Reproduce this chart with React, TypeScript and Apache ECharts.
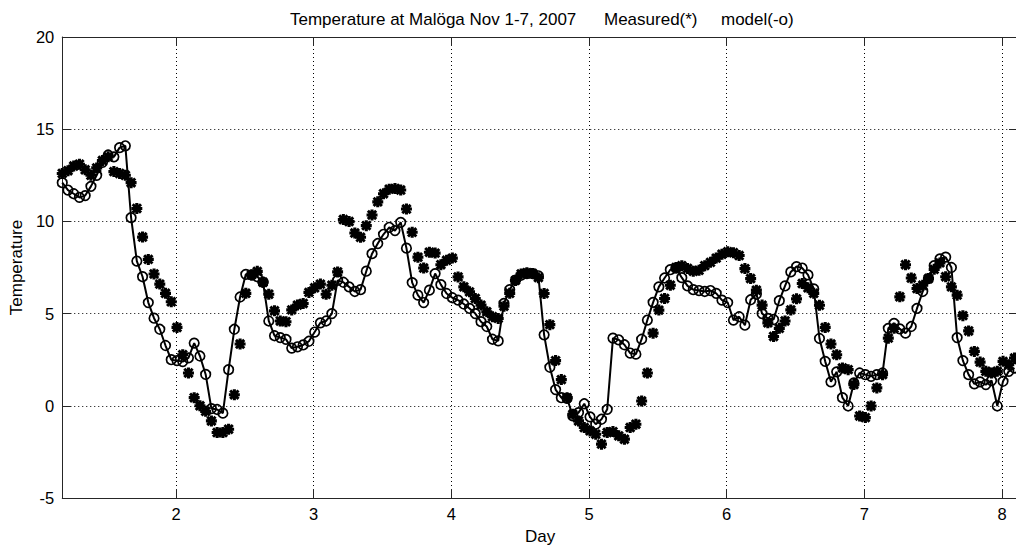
import React, { useEffect, useRef } from "react";
import * as echarts from "echarts";

// Hourly samples starting at the left edge of the plot
const START_DAY = 1.174;
const SAMPLES_PER_DAY = 24;
const X_MIN = 1.174;
const X_MAX = 8.116;
const Y_MIN = -5;
const Y_MAX = 20;
const Y_STEP = 5;

const TITLE_PARTS = ["Temperature at Malöga Nov 1-7, 2007", "Measured(*)", "model(-o)"];
const X_NAME = "Day";
const Y_NAME = "Temperature";

const measured = [
  12.6, 12.75, 13.0, 13.1, 12.8, 12.5, 12.9, 13.3, 13.5, 12.7,
  12.6, 12.5, 12.1, 10.7, 9.15, 7.94, 7.15, 6.6, 6.1, 5.64,
  4.25, 2.77, 1.78, 0.44, 0.0, -0.3, -0.82, -1.45, -1.45, -1.27,
  0.6, 3.35, 6.1, 7.1, 7.29, 6.7, 6.05, 5.15, 4.6, 4.56,
  5.2, 5.46, 5.55, 6.15, 6.4, 6.6, 6.05, 6.54, 7.26, 10.1,
  9.99, 9.37, 9.14, 9.77, 10.35, 11.06, 11.5, 11.75, 11.78, 11.7,
  10.67, 9.41, 8.06, 7.47, 8.33, 8.28, 7.65, 7.89, 8.01, 6.99,
  6.45, 6.18, 5.82, 5.46, 5.1, 4.83, 4.74, 5.4, 6.1, 6.8,
  7.15, 7.22, 7.17, 6.95, 6.09, 4.4, 2.45, 1.42, 0.44, -0.46,
  -0.82, -1.18, -1.36, -1.54, -2.08, -1.45, -1.4, -1.63, -1.81, -1.18,
  -1.0, 0.26, 1.78, 3.94, 5.19, 5.82, 6.54, 7.5, 7.6, 7.45,
  7.3, 7.35, 7.6, 7.78, 8.01, 8.22, 8.35, 8.3, 8.15, 7.44,
  6.9, 6.27, 5.46, 4.5, 3.76, 4.2, 4.6, 5.2, 5.8, 6.63,
  6.4, 6.1, 5.45, 4.25, 3.35, 2.77, 2.05, 1.96, 1.15, -0.55,
  -0.64, -0.01, 0.97, 1.69, 3.67, 4.2, 5.91, 7.65, 6.93, 6.36,
  6.54, 6.9, 7.4, 7.75, 7.0, 6.45, 6.0, 4.89, 4.06, 2.95,
  2.37, 1.87, 1.78, 1.87, 2.41, 2.23, 2.59,
];

const model = [
  12.1, 11.7, 11.5, 11.3, 11.4, 11.9, 12.5, 13.2, 13.6, 13.5,
  14.0, 14.1, 10.2, 7.85, 7.0, 5.6, 4.75, 4.15, 3.27, 2.5,
  2.45, 2.4, 2.6, 3.4, 2.7, 1.7, -0.15, -0.2, -0.4, 1.96,
  4.15, 5.9, 7.13, 7.1, 7.0, 6.7, 4.6, 3.8, 3.7, 3.6,
  3.13, 3.2, 3.3, 3.5, 4.0, 4.5, 4.6, 5.0, 6.8, 6.7,
  6.45, 6.2, 6.3, 7.3, 8.25, 8.8, 9.3, 9.68, 9.5, 9.95,
  8.55, 6.68, 6.0, 5.6, 6.27, 7.17, 6.57, 6.09, 5.86, 5.73,
  5.52, 5.28, 5.0, 4.56, 4.3, 3.61, 3.52, 5.55, 6.3, 6.81,
  7.08, 7.17, 7.17, 7.05, 3.85, 2.09, 0.88, 0.44, 0.4, -0.55,
  -0.37, 0.11, -0.6, -1.0, -0.73, -0.19, 3.67, 3.58, 3.31, 2.86,
  2.8, 3.61, 4.65, 5.61, 6.45, 6.93, 7.38, 7.47, 6.95, 6.5,
  6.3, 6.25, 6.2, 6.25, 6.1, 5.73, 5.6, 4.65, 4.83, 4.37,
  5.75, 6.05, 5.0, 4.74, 4.68, 5.7, 6.5, 7.26, 7.55, 7.47,
  7.1, 6.34, 3.65, 2.41, 1.3, 1.84, 0.44, -0.01, 1.24, 1.78,
  1.69, 1.6, 1.69, 1.78, 4.2, 4.47, 4.17, 3.94, 4.3, 5.28,
  6.2, 6.9, 7.6, 7.97, 8.06, 7.5, 3.7, 2.45, 1.69, 1.19,
  1.3, 1.15, 1.37, -0.01, 1.33, 1.87, 2.05,
];

const ASTERISK =
  "path://M0.5 7.3 L19.5 7.3 L19.5 12.7 L0.5 12.7 Z M7.3 0.5 L12.7 0.5 L12.7 19.5 L7.3 19.5 Z " +
  "M4.6 1.0 L19.0 15.4 L15.4 19.0 L1.0 4.6 Z " +
  "M15.4 1.0 L19.0 4.6 L4.6 19.0 L1.0 15.4 Z";

const FONT = "'Liberation Sans', Arial, Helvetica, sans-serif";
const AXIS_COLOR = "#262626";

export default function App() {
  const ref = useRef<HTMLDivElement>(null);

  useEffect(() => {
    if (!ref.current) return;
    const chart = echarts.init(ref.current, undefined, { renderer: "svg" });

    const toPoints = (arr: number[]) =>
      arr.map((v, i) => [START_DAY + i / SAMPLES_PER_DAY, v]);

    const lineStyle = { color: AXIS_COLOR, width: 1 };
    const gridLine = { show: true, lineStyle: { color: "#000", width: 1, type: [1, 3] as any } };
    const intLabel = (v: number) => (Math.abs(v - Math.round(v)) < 1e-6 ? String(Math.round(v)) : "");
    const titleStyle = { fontFamily: FONT, fontSize: 17, fontWeight: "normal", color: "#000" };

    chart.setOption({
      animation: false,
      backgroundColor: "#fff",
      title: [
        { text: TITLE_PARTS[0], left: 285, top: 6, textStyle: titleStyle },
        { text: TITLE_PARTS[1], left: 599, top: 6, textStyle: titleStyle },
        { text: TITLE_PARTS[2], left: 716, top: 6, textStyle: titleStyle },
      ],
      grid: { left: 62, right: 4, top: 37, bottom: 49, containLabel: false },
      xAxis: [
        {
          type: "value",
          position: "bottom",
          min: X_MIN,
          max: X_MAX,
          splitNumber: 7,
          minInterval: 1,
          maxInterval: 1,
          axisLine: { show: true, onZero: false, lineStyle },
          axisTick: { show: true, inside: true, length: 9, lineStyle },
          axisLabel: { formatter: intLabel, margin: 7, fontFamily: FONT, fontSize: 16.5, color: "#000" },
          splitLine: gridLine,
          name: X_NAME,
          nameLocation: "middle",
          nameGap: 30,
          nameTextStyle: { fontFamily: FONT, fontSize: 17, color: "#000" },
        },
        {
          type: "value",
          position: "top",
          min: X_MIN,
          max: X_MAX,
          splitNumber: 7,
          minInterval: 1,
          maxInterval: 1,
          axisLine: { show: true, onZero: false, lineStyle },
          axisTick: { show: true, inside: true, length: 9, lineStyle },
          axisLabel: { show: false },
          splitLine: { show: false },
        },
      ],
      yAxis: [
        {
          type: "value",
          position: "left",
          min: Y_MIN,
          max: Y_MAX,
          interval: Y_STEP,
          axisLine: { show: true, onZero: false, lineStyle },
          axisTick: { show: true, inside: true, length: 9, lineStyle },
          axisLabel: { margin: 8, fontFamily: FONT, fontSize: 16.5, color: "#000" },
          splitLine: gridLine,
          name: Y_NAME,
          nameLocation: "middle",
          nameGap: 36,
          nameTextStyle: { fontFamily: FONT, fontSize: 17, color: "#000" },
        },
        {
          type: "value",
          position: "right",
          min: Y_MIN,
          max: Y_MAX,
          interval: Y_STEP,
          axisLine: { show: true, onZero: false, lineStyle },
          axisTick: { show: true, inside: true, length: 9, lineStyle },
          axisLabel: { show: false },
          splitLine: { show: false },
        },
      ],
      series: [
        {
          name: "Measured",
          type: "scatter",
          xAxisIndex: 0,
          yAxisIndex: 0,
          symbol: ASTERISK,
          symbolSize: 11,
          itemStyle: { color: "#000", opacity: 1 },
          data: toPoints(measured),
          z: 2,
        },
        {
          name: "model",
          type: "line",
          xAxisIndex: 0,
          yAxisIndex: 0,
          symbol: "circle",
          symbolSize: 9.5,
          showAllSymbol: true,
          lineStyle: { color: "#000", width: 2 },
          itemStyle: { color: "rgba(0,0,0,0)", borderColor: "#000", borderWidth: 1.7 },
          data: toPoints(model),
          z: 3,
        },
      ],
    });

    return () => chart.dispose();
  }, []);

  return (
    <div style={{ position: "fixed", left: 0, top: 0, width: 1016, height: 550, overflow: "hidden", background: "#fff" }}>
      <div ref={ref} style={{ width: 1022, height: 550 }} />
    </div>
  );
}
